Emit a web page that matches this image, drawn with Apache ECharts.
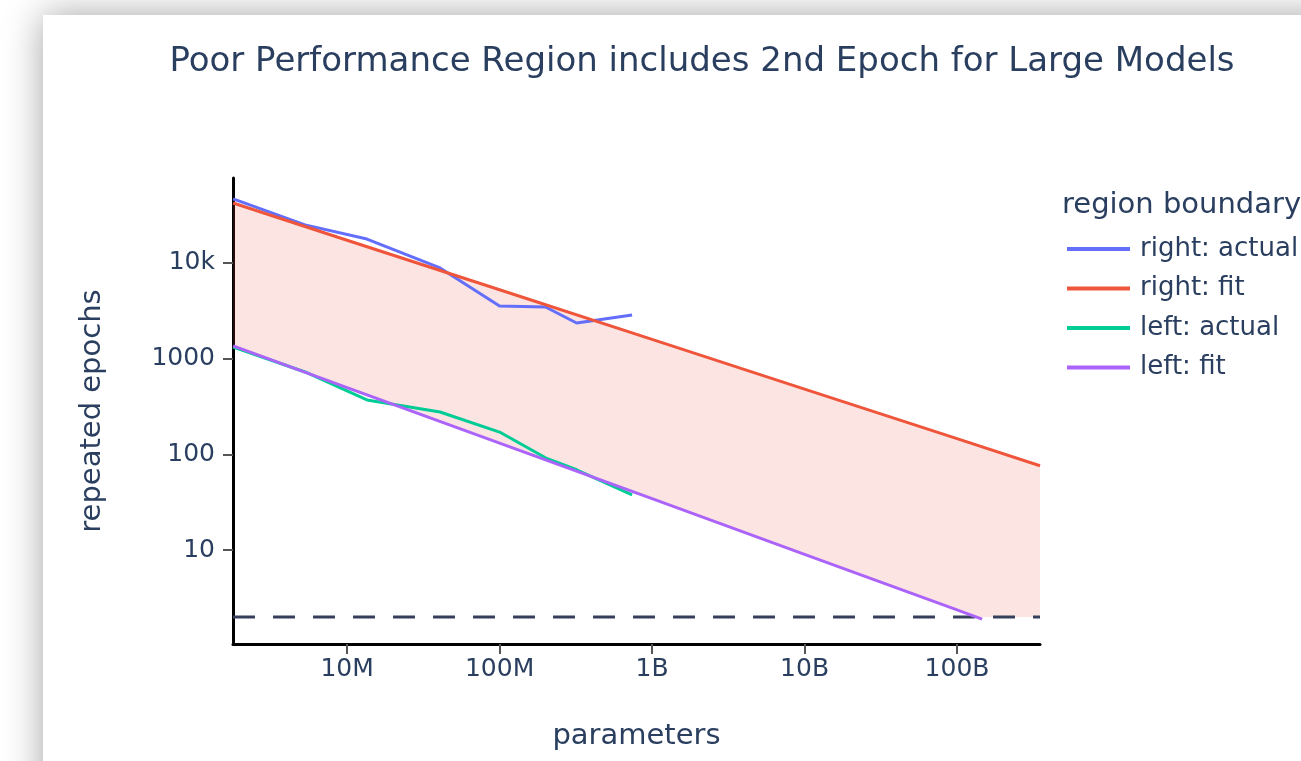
<!DOCTYPE html>
<html>
<head>
<meta charset="utf-8">
<script src="https://cdn.jsdelivr.net/npm/echarts@6/dist/echarts.min.js"></script>
<style>
  html, body { margin: 0; padding: 0; width: 1301px; height: 761px; overflow: hidden; background: #ffffff; }
  #card { position: absolute; left: 43px; top: 15px; width: 1400px; height: 900px; background: #ffffff;
          box-shadow: 0 0 36px rgba(0,0,0,0.36); }
  #chart { position: absolute; left: 0; top: 0; width: 1301px; height: 761px; }
</style>
</head>
<body>
<div id="card"></div>
<div id="chart"></div>
<script>
// ---- data (x = parameters, y = repeated epochs) ----
const rightActualX = [1.79e6, 5.3e6, 1.35e7, 4.07e7, 1.0e8, 2.0e8, 3.2e8, 7.4e8];
const rightActualY = [46700, 25000, 17800, 8870, 3556, 3470, 2360, 2864];
const leftActualX  = [1.79e6, 5.3e6, 1.35e7, 4.07e7, 1.0e8, 2.0e8, 3.2e8, 7.4e8];
const leftActualY  = [1324, 726, 370, 277, 171, 92, 69, 37.7];
const rightFitX = [1.79e6, 1e7, 1e8, 1e9, 1e10, 1e11, 3.5e11];
const rightFitY = [42400, 17300, 5250, 1590, 481, 146, 76];
const leftFitX  = [1.79e6, 1e7, 1e8, 1e9, 1e10, 1e11, 1.46e11];
const leftFitY  = [1358, 499, 131, 34.4, 9.0, 2.37, 1.9];
const epochFloor = 2;             // dashed "2nd epoch" line
const floorCrossX = 1.34e11;      // where the left fit meets the floor
const xTickValues = [1e7, 1e8, 1e9, 1e10, 1e11];
const xTickLabels = ['10M', '100M', '1B', '10B', '100B'];
const yTickValues = [10, 100, 1000, 10000];
const yTickLabels = ['10', '100', '1000', '10k'];
const xMin = 1.786e6, xMax = 3.5e11;
const yMin = 1.042, yMax = 77300;

const zip = (xs, ys) => xs.map((x, i) => [x, ys[i]]);

// polygon of the poor performance region: along the right fit, down to the floor, back along the left fit
const fillPoly = [];
zip(rightFitX, rightFitY).forEach(p => fillPoly.push(p));
fillPoly.push([rightFitX[rightFitX.length - 1], epochFloor]);
fillPoly.push([floorCrossX, epochFloor]);
zip(leftFitX, leftFitY).filter(p => p[1] >= epochFloor).reverse().forEach(p => fillPoly.push(p));

const textColor = '#2a3f5f';
const font = 'DejaVu Sans';
const labelOf = (vals, labels) => v => {
  const i = vals.findIndex(t => Math.abs(Math.log10(t) - Math.log10(v)) < 1e-6);
  return i >= 0 ? labels[i] : '';
};

const chart = echarts.init(document.getElementById('chart'), null, { renderer: 'canvas' });
chart.setOption({
  backgroundColor: 'transparent',
  animation: false,
  textStyle: { fontFamily: font },
  graphic: [
    { type: 'text', x: 702, y: 62, style: { text: 'Poor Performance Region includes 2nd Epoch for Large Models',
      font: '34px "DejaVu Sans"', fill: textColor, textAlign: 'center', textVerticalAlign: 'middle' } },
    { type: 'text', x: 1062, y: 205, style: { text: 'region boundary',
      font: '29px "DejaVu Sans"', fill: textColor, textAlign: 'left', textVerticalAlign: 'middle' } }
  ],
  legend: {
    orient: 'vertical', left: 1062, top: 231,
    icon: 'rect', itemWidth: 63, itemHeight: 4, itemGap: 13.5,
    data: ['right: actual', 'right: fit', 'left: actual', 'left: fit'],
    textStyle: { fontFamily: font, fontSize: 26, color: textColor, lineHeight: 26, padding: [0, 0, 0, 5] }
  },
  grid: { left: 233, top: 178, right: 261, bottom: 117, containLabel: false },
  xAxis: {
    type: 'log', min: xMin, max: xMax,
    name: 'parameters', nameLocation: 'middle', nameGap: 78,
    nameTextStyle: { fontFamily: font, fontSize: 29, color: textColor },
    axisLine: { show: true, onZero: false, lineStyle: { color: '#000', width: 3 } },
    axisTick: { show: true, length: 10, customValues: xTickValues, lineStyle: { color: '#555', width: 2 } },
    axisLabel: { customValues: xTickValues, margin: 13, fontSize: 25, color: textColor, fontFamily: font,
      formatter: labelOf(xTickValues, xTickLabels) },
    splitLine: { show: false }, minorTick: { show: false }
  },
  yAxis: {
    type: 'log', min: yMin, max: yMax,
    name: 'repeated epochs', nameLocation: 'middle', nameGap: 126,
    nameTextStyle: { fontFamily: font, fontSize: 29, color: textColor },
    axisLine: { show: true, onZero: false, lineStyle: { color: '#000', width: 3 } },
    axisTick: { show: true, length: 10, customValues: yTickValues, lineStyle: { color: '#555', width: 2 } },
    axisLabel: { customValues: yTickValues, margin: 18, fontSize: 25, color: textColor, fontFamily: font,
      formatter: labelOf(yTickValues, yTickLabels) },
    splitLine: { show: false }, minorTick: { show: false }
  },
  series: [
    {
      name: 'region', type: 'custom', data: fillPoly, encode: { x: 0, y: 1 }, clip: true, silent: true,
      renderItem: (params, api) => {
        if (params.dataIndex !== 0) return null;
        const pts = fillPoly.map(p => api.coord(p));
        return { type: 'polygon', shape: { points: pts }, style: { fill: 'rgba(230,90,70,0.16)' } };
      }
    },
    { name: 'floor', type: 'line', data: [[xMin, epochFloor], [xMax, epochFloor]], symbol: 'none', silent: true,
      lineStyle: { color: '#36405a', width: 3, type: [22, 18] } },
    { name: 'right: actual', type: 'line', data: zip(rightActualX, rightActualY), symbol: 'none',
      itemStyle: { color: '#636EFA' }, lineStyle: { color: '#636EFA', width: 3 } },
    { name: 'right: fit', type: 'line', data: zip(rightFitX, rightFitY), symbol: 'none',
      itemStyle: { color: '#EF553B' }, lineStyle: { color: '#EF553B', width: 3 } },
    { name: 'left: actual', type: 'line', data: zip(leftActualX, leftActualY), symbol: 'none',
      itemStyle: { color: '#00CC96' }, lineStyle: { color: '#00CC96', width: 3 } },
    { name: 'left: fit', type: 'line', data: zip(leftFitX, leftFitY), symbol: 'none',
      itemStyle: { color: '#AB63FA' }, lineStyle: { color: '#AB63FA', width: 3 } }
  ]
});
</script>
</body>
</html>
